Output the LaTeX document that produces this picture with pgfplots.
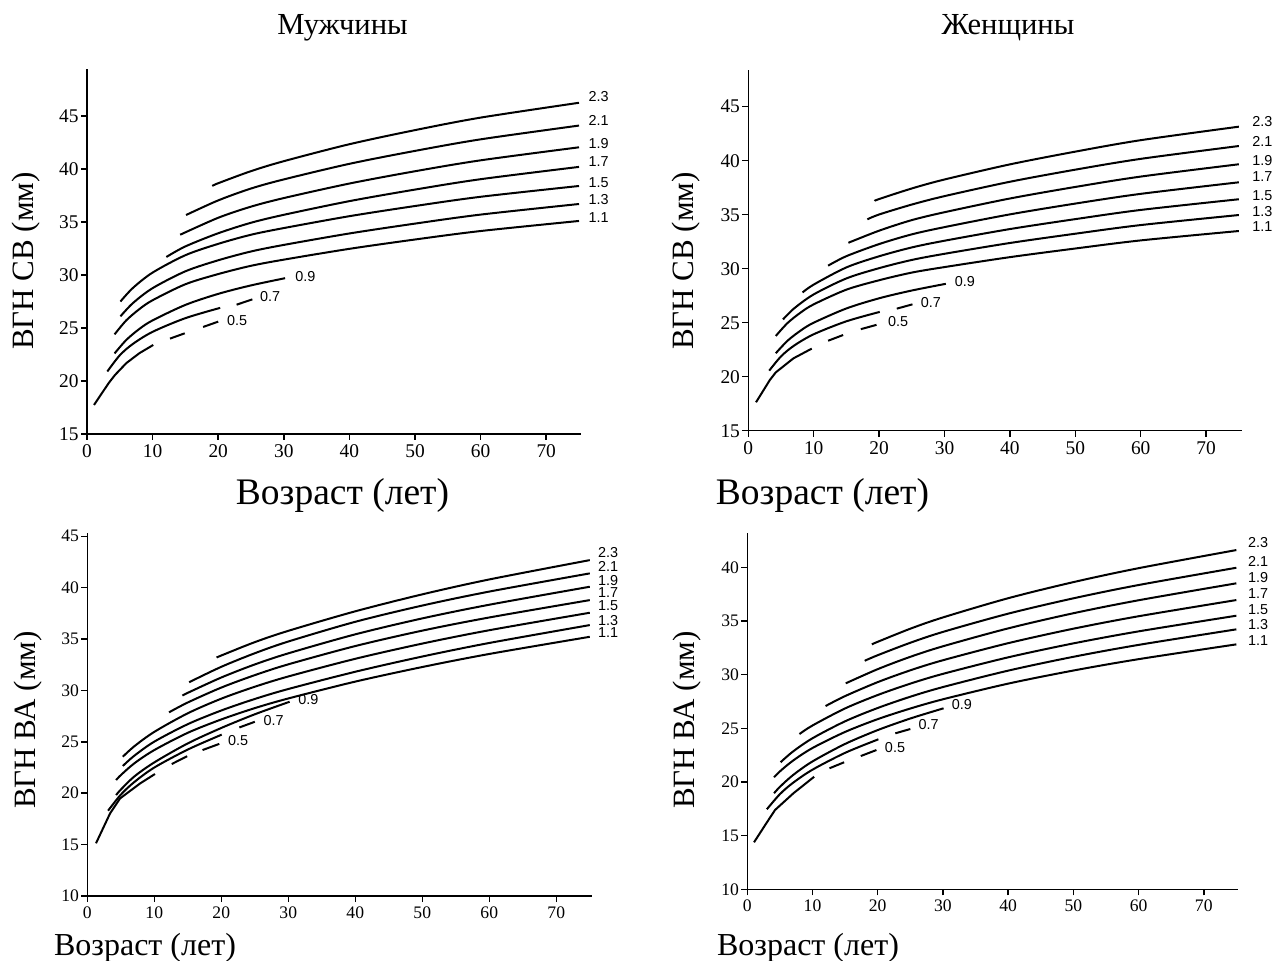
\documentclass[border=0pt]{standalone}
\usepackage{fontspec}
\setmainfont{Liberation Serif}
\newfontfamily\lsans{Liberation Sans}
\usepackage{pgfplots}
\pgfplotsset{compat=1.18}
\pgfplotsset{
  panel/.style={
    scale only axis, anchor=south west, clip=false,
    axis lines=left, axis line style={-, line width=0.75pt},
    tick align=outside, major tick length=3pt,
    tick style={line width=0.75pt, black},
    xmin=0, xtick={0,10,...,70},
    /pgf/number format/assume math mode=true,
    yticklabel style={inner sep=1pt},
    xticklabel style={inner sep=2pt},
  },
}
\tikzset{
  cv/.style={line width=1pt, black, smooth, tension=0.5},
  cs/.style={line width=1pt, black},
  cl/.style={font=\lsans\fontsize{7.2}{8}\selectfont, inner sep=0pt, anchor=west},
  ci/.style={font=\lsans\fontsize{7.2}{8}\selectfont, inner sep=0pt},
}
\begin{document}
\begin{tikzpicture}
\path[use as bounding box] (0,0) rectangle (637pt,-480.5pt);

% ---------------- Panel A1: men, SV ----------------
\begin{axis}[panel, at={(43.5pt,-217pt)}, width=247pt, height=182.3pt,
  xmax=75.3, ymin=15, ymax=49.4, ytick={15,20,...,45},
  ticklabel style={font=\fontsize{9.7}{11}\selectfont}]
\addplot[cv] coordinates {(19.1,38.40) (20,38.66) (25,39.80) (30,40.74) (40,42.34) (50,43.67) (60,44.85) (75,46.25)};
\addplot[cv] coordinates {(15.1,35.66) (20,37.04) (25,38.16) (30,39.02) (40,40.49) (50,41.71) (60,42.80) (75,44.10)};
\addplot[cv] coordinates {(14.2,33.80) (20,35.40) (25,36.45) (30,37.26) (40,38.63) (50,39.79) (60,40.82) (75,42.05)};
\addplot[cv] coordinates {(12.1,31.70) (15,32.70) (20,33.94) (25,34.93) (30,35.68) (40,36.97) (50,38.06) (60,39.04) (75,40.20)};
\addplot[cv] coordinates {(5.1,27.50) (7,28.78) (10,30.23) (15,31.87) (20,32.94) (25,33.80) (30,34.43) (40,35.55) (50,36.51) (60,37.38) (75,38.40)};
\addplot[cv] coordinates {(5.1,26.10) (7,27.35) (10,28.76) (15,30.35) (20,31.39) (25,32.22) (30,32.84) (40,33.92) (50,34.85) (60,35.70) (75,36.70)};
\addplot[cv] coordinates {(4.2,24.40) (6,25.73) (8,26.79) (10,27.62) (15,29.13) (20,30.09) (25,30.87) (30,31.45) (40,32.47) (50,33.35) (60,34.15) (75,35.10)};
\addplot[cv] coordinates {(4.2,22.60) (6,23.88) (8,24.92) (10,25.72) (15,27.18) (20,28.22) (25,29.02) (30.2,29.70)};
\addplot[cv] coordinates {(3.1,20.90) (5,22.43) (7,23.50) (10,24.64) (15,25.93) (20.3,26.90)};
\addplot[cs] coordinates {(22.8,27.2) (25.2,27.7)};
\addplot[cs] coordinates {(1.07,17.74) (3.3,19.8) (4.27,20.57) (6,21.69) (8,22.63) (10.1,23.4)};
\addplot[cs] coordinates {(12.65,24.0) (14.9,24.5)};
\addplot[cs] coordinates {(17.7,25.1) (20.0,25.6)};
\node[cl] at (axis cs:76.4,46.82) {2.3};
\node[cl] at (axis cs:76.4,44.62) {2.1};
\node[cl] at (axis cs:76.4,42.42) {1.9};
\node[cl] at (axis cs:76.4,40.69) {1.7};
\node[cl] at (axis cs:76.4,38.75) {1.5};
\node[cl] at (axis cs:76.4,37.08) {1.3};
\node[cl] at (axis cs:76.4,35.44) {1.1};
\node[ci] at (axis cs:33.3,29.84) {0.9};
\node[ci] at (axis cs:27.9,27.95) {0.7};
\node[ci] at (axis cs:22.9,25.75) {0.5};
\end{axis}

% ---------------- Panel A2: women, SV ----------------
\begin{axis}[panel, at={(374.15pt,-215.35pt)}, width=246.9pt, height=180.36pt,
  xmax=75.5, ymin=15, ymax=48.4, ytick={15,20,...,45},
  ticklabel style={font=\fontsize{9.7}{11}\selectfont}]
\addplot[cv] coordinates {(19.3,36.27) (20,36.45) (25,37.43) (30,38.26) (40,39.66) (50,40.84) (60,41.90) (75,43.15)};
\addplot[cv] coordinates {(18.2,34.57) (20,35.02) (25,35.94) (30,36.72) (40,38.05) (50,39.17) (60,40.17) (75,41.36)};
\addplot[cv] coordinates {(15.3,32.40) (20,33.52) (25,34.50) (30,35.23) (40,36.50) (50,37.57) (60,38.53) (75,39.67)};
\addplot[cv] coordinates {(12.2,30.28) (15,31.16) (20,32.28) (25,33.18) (30,33.85) (40,35.03) (50,36.03) (60,36.93) (75,38.00)};
\addplot[cv] coordinates {(8.3,27.80) (10,28.53) (15,30.12) (20,31.15) (25,31.97) (30,32.59) (40,33.67) (50,34.59) (60,35.44) (75,36.43)};
\addplot[cv] coordinates {(5.3,25.30) (7,26.32) (10,27.62) (15,29.10) (20,30.05) (25,30.81) (30,31.38) (40,32.38) (50,33.24) (60,34.04) (75,34.97)};
\addplot[cv] coordinates {(4.2,23.77) (6,24.97) (8,25.94) (10,26.70) (15,28.06) (20,28.93) (25,29.64) (30,30.15) (40,31.07) (50,31.87) (60,32.62) (75,33.49)};
\addplot[cv] coordinates {(4.2,22.17) (6,23.33) (8,24.27) (10,25.00) (15,26.32) (20,27.26) (25,27.98) (30.2,28.60)};
\addplot[cv] coordinates {(3.2,20.56) (5,21.88) (7,22.88) (10,23.93) (15,25.13) (20.1,26.00)};
\addplot[cs] coordinates {(22.7,26.3) (25.1,26.7)};
\addplot[cs] coordinates {(1.18,17.63) (3.3,19.7) (4.2,20.4) (6.9,21.7) (9.7,22.6)};
\addplot[cs] coordinates {(12.2,23.33) (14.5,23.86)};
\addplot[cs] coordinates {(17.2,24.4) (19.6,24.8)};
\node[cl] at (axis cs:77.0,43.61) {2.3};
\node[cl] at (axis cs:77.0,41.76) {2.1};
\node[cl] at (axis cs:77.0,40.06) {1.9};
\node[cl] at (axis cs:77.0,38.52) {1.7};
\node[cl] at (axis cs:77.0,36.73) {1.5};
\node[cl] at (axis cs:77.0,35.28) {1.3};
\node[cl] at (axis cs:77.0,33.89) {1.1};
\node[ci] at (axis cs:33.1,28.8) {0.9};
\node[ci] at (axis cs:27.9,26.89) {0.7};
\node[ci] at (axis cs:22.9,25.09) {0.5};
\end{axis}

% ---------------- Panel B1: men, AA ----------------
\begin{axis}[panel, at={(43.65pt,-448pt)}, width=252.25pt, height=181.4pt,
  xmax=75.3, ymin=10, ymax=45.3, ytick={10,15,...,45},
  ticklabel style={font=\fontsize{8.8}{10}\selectfont}]
\addplot[cv] coordinates {(19.3,33.20) (20,33.40) (25,34.70) (30,35.80) (40,37.70) (50,39.35) (60,40.80) (75,42.68)};
\addplot[cv] coordinates {(15.2,30.80) (20,32.30) (25,33.62) (30,34.76) (40,36.68) (50,38.26) (60,39.62) (75,41.39)};
\addplot[cv] coordinates {(14.2,29.50) (15,29.77) (20,31.26) (25,32.53) (30,33.61) (40,35.46) (50,37.01) (60,38.34) (75,40.09)};
\addplot[cv] coordinates {(12.2,27.87) (15,28.83) (20,30.28) (25,31.49) (30,32.54) (40,34.32) (50,35.82) (60,37.10) (75,38.79)};
\addplot[cv] coordinates {(5.3,23.55) (7,24.56) (10,25.97) (15,27.78) (20,29.20) (25,30.36) (30,31.36) (40,33.08) (50,34.56) (60,35.86) (75,37.56)};
\addplot[cv] coordinates {(5.3,22.65) (7,23.64) (10,25.02) (15,26.72) (20,28.05) (25,29.17) (30,30.14) (40,31.82) (50,33.30) (60,34.62) (75,36.36)};
\addplot[cv] coordinates {(4.3,21.28) (5,21.76) (7,22.90) (10,24.20) (15,25.88) (20,27.18) (25,28.28) (30,29.22) (40,30.86) (50,32.28) (60,33.55) (75,35.22)};
\addplot[cv] coordinates {(4.3,19.82) (5,20.35) (7,21.62) (10,23.00) (15,24.85) (20,26.35) (25,27.68) (30.2,28.90)};
\addplot[cv] coordinates {(3.1,18.30) (5,19.86) (7,21.08) (10,22.50) (15,24.25) (20.06,25.70)};
\addplot[cs] coordinates {(22.7,26.40) (25.0,26.95)};
\addplot[cs] coordinates {(1.3,15.13) (3.4,18.04) (4.9,19.5) (7.9,20.96) (10.1,21.87)};
\addplot[cs] coordinates {(12.6,22.84) (14.9,23.6)};
\addplot[cs] coordinates {(17.2,24.2) (19.7,24.8)};
\node[cl] at (axis cs:76.2,43.37) {2.3};
\node[cl] at (axis cs:76.2,42.03) {2.1};
\node[cl] at (axis cs:76.2,40.74) {1.9};
\node[cl] at (axis cs:76.2,39.5) {1.7};
\node[cl] at (axis cs:76.2,38.21) {1.5};
\node[cl] at (axis cs:76.2,36.85) {1.3};
\node[cl] at (axis cs:76.2,35.61) {1.1};
\node[ci] at (axis cs:33.0,29.13) {0.9};
\node[ci] at (axis cs:27.8,27.12) {0.7};
\node[ci] at (axis cs:22.5,25.1) {0.5};
\end{axis}

% ---------------- Panel B2: women, AA ----------------
\begin{axis}[panel, at={(373.65pt,-444.65pt)}, width=245.5pt, height=178.1pt,
  xmax=75.3, ymin=10, ymax=43.2, ytick={10,15,...,40},
  ticklabel style={font=\fontsize{8.8}{10}\selectfont}]
\addplot[cv] coordinates {(19.1,32.83) (20,33.07) (25,34.29) (30,35.34) (40,37.13) (50,38.63) (60,39.93) (75,41.62)};
\addplot[cv] coordinates {(18.0,31.30) (20,31.82) (25,32.98) (30,33.99) (40,35.69) (50,37.12) (60,38.36) (75,39.97)};
\addplot[cv] coordinates {(15.1,29.20) (20,30.52) (25,31.67) (30,32.65) (40,34.32) (50,35.73) (60,36.94) (75,38.52)};
\addplot[cv] coordinates {(12.0,27.08) (15,28.01) (20,29.31) (25,30.41) (30,31.35) (40,32.94) (50,34.29) (60,35.45) (75,36.96)};
\addplot[cv] coordinates {(8.0,24.47) (10,25.27) (15,26.86) (20,28.11) (25,29.17) (30,30.08) (40,31.62) (50,32.92) (60,34.04) (75,35.50)};
\addplot[cv] coordinates {(5.1,21.84) (7,22.84) (10,24.08) (15,25.66) (20,26.90) (25,27.95) (30,28.85) (40,30.38) (50,31.67) (60,32.78) (75,34.23)};
\addplot[cv] coordinates {(4.1,20.44) (5,20.99) (7,21.99) (10,23.17) (15,24.67) (20,25.86) (25,26.85) (30,27.71) (40,29.17) (50,30.39) (60,31.45) (75,32.83)};
\addplot[cv] coordinates {(4.1,18.95) (5,19.55) (7,20.64) (10,21.92) (15,23.55) (20,24.84) (25,25.92) (30.1,26.87)};
\addplot[cv] coordinates {(3.0,17.46) (5,18.87) (7,19.92) (10,21.15) (15,22.72) (20.1,23.98)};
\addplot[cs] coordinates {(22.7,24.54) (25.0,24.94)};
\addplot[cs] coordinates {(1.03,14.38) (3.07,16.3) (4.25,17.39) (7.07,18.95) (10.25,20.49)};
\addplot[cs] coordinates {(12.6,21.28) (14.85,21.84)};
\addplot[cs] coordinates {(17.4,22.42) (19.8,22.98)};
\node[cl] at (axis cs:76.75,42.3) {2.3};
\node[cl] at (axis cs:76.75,40.53) {2.1};
\node[cl] at (axis cs:76.75,39.08) {1.9};
\node[cl] at (axis cs:76.75,37.52) {1.7};
\node[cl] at (axis cs:76.75,36.03) {1.5};
\node[cl] at (axis cs:76.75,34.7) {1.3};
\node[cl] at (axis cs:76.75,33.14) {1.1};
\node[ci] at (axis cs:32.9,27.18) {0.9};
\node[ci] at (axis cs:27.8,25.31) {0.7};
\node[ci] at (axis cs:22.65,23.23) {0.5};
\end{axis}

% ---------------- titles and axis labels ----------------
\node[anchor=base, font=\fontsize{15.3}{17}\selectfont] at (171.25pt,-17.5pt) {Мужчины};
\node[anchor=base, font=\fontsize{15.3}{17}\selectfont] at (504pt,-17.5pt) {Женщины};
\node[anchor=base, font=\fontsize{18.75}{22}\selectfont] at (171.25pt,-252.5pt) {Возраст (лет)};
\node[anchor=base, font=\fontsize{18.75}{22}\selectfont] at (411.25pt,-252.5pt) {Возраст (лет)};
\node[anchor=base, font=\fontsize{16}{19}\selectfont] at (72.5pt,-477.5pt) {Возраст (лет)};
\node[anchor=base, font=\fontsize{16}{19}\selectfont] at (404pt,-477.5pt) {Возраст (лет)};
\node[anchor=base, rotate=90, font=\fontsize{15.5}{18}\selectfont] at (16.5pt,-130.5pt) {ВГН СВ (мм)};
\node[anchor=base, rotate=90, font=\fontsize{15.5}{18}\selectfont] at (346.5pt,-130.5pt) {ВГН СВ (мм)};
\node[anchor=base, rotate=90, font=\fontsize{15.5}{18}\selectfont] at (17.5pt,-360pt) {ВГН ВА (мм)};
\node[anchor=base, rotate=90, font=\fontsize{15.5}{18}\selectfont] at (347pt,-360pt) {ВГН ВА (мм)};
\end{tikzpicture}
\end{document}
